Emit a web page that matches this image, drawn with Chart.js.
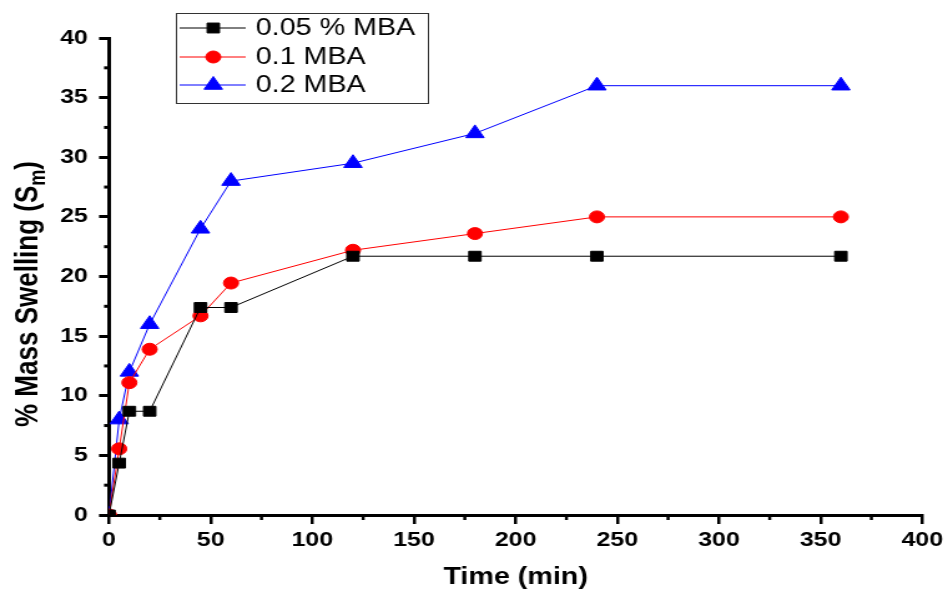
<!DOCTYPE html>
<html>
<head>
<meta charset="utf-8">
<title>% Mass Swelling vs Time</title>
<script src="https://cdn.jsdelivr.net/npm/chart.js@4.4.0/dist/chart.umd.min.js"></script>
<style>
  html, body { margin: 0; padding: 0; background: #fff; }
</style>
</head>
<body>
<!-- the drawing is done at 760 px wide and widened to 948 px on screen -->
<canvas id="swellingChart" width="760" height="592" style="display:block;width:948px;height:592px"></canvas>
<script>
// Temps de mesure (min)
const times = [0, 5, 10, 20, 45, 60, 120, 180, 240, 360];
// Gonflement massique (%) pour chaque taux de MBA
const mba005 = [0, 4.35, 8.7, 8.7, 17.4, 17.4, 21.7, 21.7, 21.7, 21.7];
const mba01 = [0, 5.55, 11.1, 13.9, 16.7, 19.45, 22.2, 23.6, 25, 25];
const mba02 = [0, 8, 12, 16, 24, 28, 29.5, 32, 36, 36];
const seriesLabels = ["0.05 % MBA", "0.1 MBA", "0.2 MBA"];

// Ticks des axes
const xTicks = [0, 50, 100, 150, 200, 250, 300, 350, 400];
const yTicks = [0, 5, 10, 15, 20, 25, 30, 35, 40];

const toPoints = (ys) => times.map((t, i) => ({ x: t, y: ys[i] }));

const FONT = "'Liberation Sans', Arial, sans-serif";

// Petits traits intermédiaires, titre de l'axe Y (avec indice) et légende encadrée
const extras = {
  id: "extras",
  afterDraw(chart) {
    const ctx = chart.ctx;
    const xs = chart.scales.x;
    const ys = chart.scales.y;
    const area = chart.chartArea;

    ctx.save();
    ctx.strokeStyle = "#000";

    // ticks mineurs de l'axe X
    ctx.lineWidth = 2.5;
    for (let i = 0; i < xTicks.length - 1; i++) {
      const px = xs.getPixelForValue((xTicks[i] + xTicks[i + 1]) / 2);
      ctx.beginPath();
      ctx.moveTo(px, area.bottom);
      ctx.lineTo(px, area.bottom + 5);
      ctx.stroke();
    }
    // ticks mineurs de l'axe Y
    ctx.lineWidth = 3;
    for (let i = 0; i < yTicks.length - 1; i++) {
      const py = ys.getPixelForValue((yTicks[i] + yTicks[i + 1]) / 2);
      ctx.beginPath();
      ctx.moveTo(area.left, py);
      ctx.lineTo(area.left - 4, py);
      ctx.stroke();
    }

    // titre de l'axe Y : "% Mass Swelling (S" + indice "m" + ")"
    const big = "bold 26px " + FONT;
    const small = "bold 18px " + FONT;
    const parts = [
      { t: "% Mass Swelling (S", f: big, dy: 0 },
      { t: "m", f: small, dy: 6 },
      { t: ")", f: big, dy: 0 },
    ];
    let total = 0;
    parts.forEach((p) => {
      ctx.font = p.f;
      p.w = ctx.measureText(p.t).width;
      total += p.w;
    });
    ctx.translate(29.5, 294);
    ctx.rotate(-Math.PI / 2);
    ctx.fillStyle = "#000";
    ctx.textAlign = "left";
    ctx.textBaseline = "alphabetic";
    let cx = -total / 2;
    parts.forEach((p) => {
      ctx.font = p.f;
      ctx.fillText(p.t, cx, p.dy);
      cx += p.w;
    });
    ctx.restore();

    // légende
    ctx.save();
    ctx.strokeStyle = "#333";
    ctx.lineWidth = 1;
    ctx.strokeRect(141.5, 13.5, 202, 90);
    const rowY = [28, 57, 85];
    chart.data.datasets.forEach((ds, i) => {
      const y = rowY[i];
      ctx.strokeStyle = ds.borderColor;
      ctx.lineWidth = 1;
      ctx.beginPath();
      ctx.moveTo(144, y);
      ctx.lineTo(197, y);
      ctx.stroke();
      ctx.fillStyle = ds.pointBackgroundColor;
      ctx.strokeStyle = ds.pointBorderColor;
      Chart.helpers.drawPoint(
        ctx,
        { pointStyle: ds.pointStyle, radius: ds.pointRadius, rotation: 0, borderWidth: 1 },
        171,
        y
      );
      ctx.fillStyle = "#000";
      ctx.font = "23px " + FONT;
      ctx.textAlign = "left";
      ctx.textBaseline = "middle";
      ctx.fillText(ds.label, 205, y + 1);
    });
    ctx.restore();
  },
};

const ctx = document.getElementById("swellingChart").getContext("2d");

new Chart(ctx, {
  type: "line",
  data: {
    datasets: [
      {
        label: seriesLabels[0],
        data: toPoints(mba005),
        borderColor: "#000",
        borderWidth: 1,
        pointStyle: "rect",
        pointRadius: 7,
        pointBackgroundColor: "#000",
        pointBorderColor: "#000",
        tension: 0,
      },
      {
        label: seriesLabels[1],
        data: toPoints(mba01),
        borderColor: "#ff0000",
        borderWidth: 1,
        pointStyle: "circle",
        pointRadius: 6,
        pointBackgroundColor: "#ff0000",
        pointBorderColor: "#ff0000",
        tension: 0,
      },
      {
        label: seriesLabels[2],
        data: toPoints(mba02),
        borderColor: "#0000ff",
        borderWidth: 1,
        pointStyle: "triangle",
        pointRadius: 8.5,
        pointBackgroundColor: "#0000ff",
        pointBorderColor: "#0000ff",
        tension: 0,
      },
    ],
  },
  options: {
    responsive: false,
    devicePixelRatio: 1,
    animation: false,
    layout: { padding: { top: 38, right: 20, left: 0, bottom: 0 } },
    plugins: {
      legend: { display: false },
      tooltip: { enabled: false },
    },
    scales: {
      x: {
        type: "linear",
        min: 0,
        max: 400,
        afterFit: (scale) => { scale.height = 77; },
        afterBuildTicks: (scale) => { scale.ticks = xTicks.map((v) => ({ value: v })); },
        ticks: {
          color: "#000",
          padding: 4,
          maxRotation: 0,
          font: { family: FONT, weight: "bold", size: 20 },
        },
        grid: { drawOnChartArea: false, color: "#000", lineWidth: 2.5, tickLength: 9 },
        border: { color: "#000", width: 3 },
        title: {
          display: true,
          text: "Time (min)",
          color: "#000",
          font: { family: FONT, weight: "bold", size: 23 },
          padding: { top: 0, bottom: 1 },
        },
      },
      y: {
        min: 0,
        max: 40,
        afterFit: (scale) => { scale.width = 87.4; },
        afterBuildTicks: (scale) => { scale.ticks = yTicks.map((v) => ({ value: v })); },
        ticks: {
          color: "#000",
          padding: 9,
          font: { family: FONT, weight: "bold", size: 20 },
        },
        grid: { drawOnChartArea: false, color: "#000", lineWidth: 3, tickLength: 8 },
        border: { color: "#000", width: 3 },
      },
    },
  },
  plugins: [extras],
});
</script>
</body>
</html>
